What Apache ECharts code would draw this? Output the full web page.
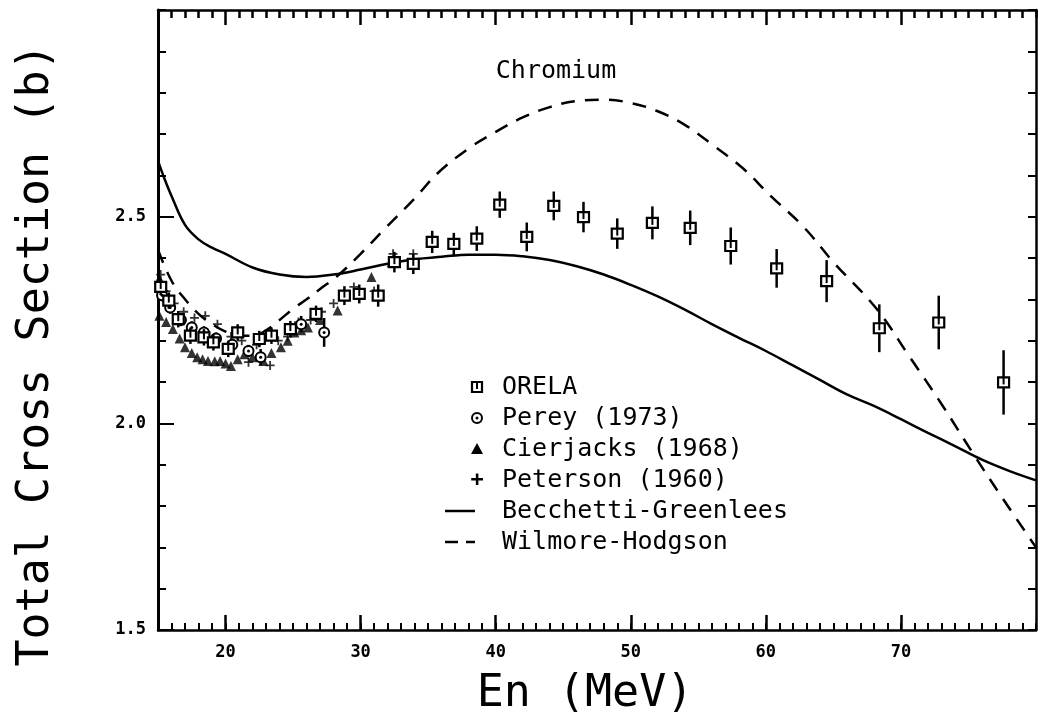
<!DOCTYPE html>
<html><head><meta charset="utf-8">
<script src="https://cdn.jsdelivr.net/npm/echarts@6/dist/echarts.min.js"></script>
<style>html,body{margin:0;padding:0;background:#fff}#c{width:1038px;height:721px}</style>
</head><body><div id="c"></div>
<script>
// ---- data ----
const xLabels = [20, 30, 40, 50, 60, 70];
const yLabels = [1.5, 2.0, 2.5];
const xMin = 15, xMax = 80, yMin = 1.5, yMax = 3.0;

// ORELA: [En, sigma, error]
const orela = [
  [15.2,2.330,0.015],[15.8,2.297,0.015],[16.5,2.252,0.015],[17.4,2.212,0.015],
  [18.4,2.208,0.015],[19.1,2.196,0.015],[20.2,2.180,0.015],[20.9,2.220,0.015],
  [22.5,2.204,0.015],[23.4,2.212,0.015],[24.8,2.228,0.015],[26.7,2.265,0.015],
  [28.8,2.309,0.018],[29.9,2.313,0.018],[31.3,2.309,0.022],[32.5,2.390,0.02],
  [33.9,2.386,0.02],[35.3,2.439,0.022],[36.9,2.434,0.022],[38.6,2.447,0.025],
  [40.3,2.529,0.027],[42.3,2.451,0.03],[44.3,2.526,0.03],[46.5,2.499,0.032],
  [49.0,2.459,0.032],[51.6,2.485,0.035],[54.4,2.473,0.037],[57.4,2.429,0.04],
  [60.8,2.375,0.042],[64.5,2.344,0.046],[68.4,2.230,0.053],[72.8,2.244,0.06],
  [77.6,2.099,0.073]
];
// Perey (1973): [En, sigma, error]
const perey = [
  [15.3,2.31,0.01],[15.9,2.28,0.01],[16.7,2.25,0.01],[17.5,2.232,0.01],
  [18.4,2.22,0.01],[19.3,2.205,0.01],[20.5,2.19,0.01],[21.7,2.175,0.01],
  [22.6,2.16,0.015],[25.6,2.24,0.015],[27.3,2.22,0.03]
];
// Cierjacks (1968): [En, sigma]
const cierjacks = [
  [14.8,2.366],[15.1,2.35],[15.4,2.33],[15.1,2.26],[15.6,2.245],[16.1,2.228],
  [16.6,2.205],[17.0,2.184],[17.5,2.17],[17.9,2.16],[18.3,2.155],[18.7,2.151],
  [19.2,2.15],[19.6,2.151],[20.0,2.145],[20.4,2.139],[20.9,2.155],[21.4,2.167],
  [22.0,2.16],[22.8,2.151],[23.4,2.17],[24.1,2.184],[24.6,2.2],[25.1,2.22],
  [25.6,2.225],[26.1,2.232],[27.0,2.25],[28.3,2.273],[30.8,2.354],[32.3,2.39]
];
// Peterson (1960): [En, sigma]
const peterson = [
  [15.2,2.36],[15.6,2.32],[16.2,2.29],[16.9,2.27],[17.7,2.255],[18.5,2.26],
  [19.4,2.24],[20.4,2.21],[21.2,2.2],[21.7,2.148],[22.3,2.19],[23.3,2.14],
  [23.9,2.2],[24.6,2.21],[25.4,2.245],[26.3,2.25],[27.1,2.27],[28.0,2.29],
  [29.5,2.33],[31.0,2.32],[32.4,2.41],[33.9,2.41]
];
// Becchetti-Greenlees (solid)
const bgE = [15,15.5,16,17,18,19,20,22,24,26,28,30,32,34,36,38,40,42,44,46,48,50,52,54,56,58,60,62,64,66,68,70,72,74,76,78,80];
const bgS = [2.635,2.59,2.55,2.48,2.445,2.425,2.41,2.377,2.36,2.354,2.36,2.372,2.386,2.397,2.403,2.408,2.408,2.404,2.395,2.38,2.36,2.335,2.307,2.275,2.24,2.207,2.175,2.14,2.105,2.07,2.042,2.01,1.977,1.945,1.912,1.885,1.862];
// Wilmore-Hodgson (dashed)
const whE = [15,16,17,18,19,20,21,22,23,24,25,26,27,28.3,30,31.8,34,35.7,38,40,42,44,46,48,50,52,54,56,58.3,60.3,62.8,65,68.2,70.6,73.1,75.3,77.5,80];
const whS = [2.42,2.345,2.30,2.265,2.24,2.222,2.212,2.212,2.225,2.25,2.277,2.30,2.325,2.357,2.41,2.471,2.544,2.605,2.665,2.705,2.74,2.765,2.78,2.783,2.775,2.755,2.722,2.675,2.617,2.552,2.475,2.39,2.277,2.163,2.042,1.929,1.82,1.70];

const legendItems = ['ORELA','Perey (1973)','Cierjacks (1968)','Peterson (1960)','Becchetti-Greenlees','Wilmore-Hodgson'];
const chartLabel = 'Chromium';
const xTitle = 'En (MeV)';
const yTitle = 'Total Cross Section (b)';

// ---- build ----
const xMinorTicks = []; for (let v = xMin; v <= xMax; v++) xMinorTicks.push(v);
const yMinorTicks = []; for (let i = 0; i <= 15; i++) yMinorTicks.push(+(yMin + i * 0.1).toFixed(1));

const MONO = 'DejaVu Sans Mono';
const black = '#000';

function axisBase(extra) {
  return Object.assign({
    type: 'value', gridIndex: 0,
    axisLine: { show: true, onZero: false, lineStyle: { color: black, width: 2.5 } },
    splitLine: { show: false },
  }, extra);
}

const xAxes = [
  axisBase({ min: xMin, max: xMax, position: 'bottom',
    axisTick: { show: true, inside: true, length: 7, customValues: xMinorTicks, lineStyle: { color: black, width: 2 } },
    axisLabel: { show: true, customValues: xLabels, margin: 14, color: black, fontFamily: MONO, fontWeight: 'bold', fontSize: 17 } }),
  axisBase({ min: xMin, max: xMax, position: 'bottom', axisLine: { show: false },
    axisTick: { show: true, inside: true, length: 15, customValues: xLabels, lineStyle: { color: black, width: 2.5 } },
    axisLabel: { show: false } }),
  axisBase({ min: xMin, max: xMax, position: 'top',
    axisTick: { show: true, inside: true, length: 8, customValues: xMinorTicks, lineStyle: { color: black, width: 2.5 } },
    axisLabel: { show: false } }),
  axisBase({ min: xMin, max: xMax, position: 'top', axisLine: { show: false },
    axisTick: { show: true, inside: true, length: 15, customValues: xLabels, lineStyle: { color: black, width: 2.5 } },
    axisLabel: { show: false } })
];
const yAxes = [
  axisBase({ min: yMin, max: yMax, position: 'left',
    axisLine: { show: true, onZero: false, lineStyle: { color: black, width: 3 } },
    axisTick: { show: true, inside: true, length: 8, customValues: yMinorTicks, lineStyle: { color: black, width: 2 } },
    axisLabel: { show: true, customValues: yLabels, margin: 12, color: black, fontFamily: MONO, fontWeight: 'bold', fontSize: 17,
      formatter: v => v.toFixed(1) } }),
  axisBase({ min: yMin, max: yMax, position: 'left', axisLine: { show: false },
    axisTick: { show: true, inside: true, length: 16, customValues: yLabels, lineStyle: { color: black, width: 2 } },
    axisLabel: { show: false } }),
  axisBase({ min: yMin, max: yMax, position: 'right',
    axisTick: { show: true, inside: true, length: 8, customValues: yMinorTicks, lineStyle: { color: black, width: 2 } },
    axisLabel: { show: false } })
];

function errBarSeries(data, kind) {
  return {
    type: 'custom', xAxisIndex: 0, yAxisIndex: 0, data: data, z: kind === 'sq' ? 6 : 5,
    renderItem: function (params, api) {
      const x = api.value(0), y = api.value(1), e = api.value(2);
      const c = api.coord([x, y]);
      const t = api.coord([x, y + e]);
      const b = api.coord([x, y - e]);
      const ch = [{ type: 'line', shape: { x1: c[0], y1: t[1] - 2, x2: c[0], y2: b[1] + 2 }, style: { stroke: black, lineWidth: 2.5 } }];
      if (kind === 'sq') {
        ch.push({ type: 'rect', shape: { x: c[0] - 5.5, y: c[1] - 5, width: 11, height: 10 }, style: { fill: '#fff', stroke: black, lineWidth: 2.2 } });
        ch.push({ type: 'line', shape: { x1: c[0], y1: c[1] - 5, x2: c[0], y2: c[1] + 2 }, style: { stroke: black, lineWidth: 2 } });
      } else {
        ch.push({ type: 'circle', shape: { cx: c[0], cy: c[1], r: 5 }, style: { fill: '#fff', stroke: black, lineWidth: 2 } });
        ch.push({ type: 'circle', shape: { cx: c[0], cy: c[1], r: 1.5 }, style: { fill: black } });
      }
      return { type: 'group', children: ch };
    }
  };
}

const plusPath = 'path://M-1,-5H1V-1H5V1H1V5H-1V1H-5V-1H-1Z';

const series = [
  { type: 'line', name: legendItems[4], data: bgE.map((e, i) => [e, bgS[i]]), smooth: 0.4, showSymbol: false,
    lineStyle: { color: black, width: 2.5 }, z: 3, silent: true },
  { type: 'line', name: legendItems[5], data: whE.map((e, i) => [e, whS[i]]), smooth: 0.4, showSymbol: false,
    lineStyle: { color: black, width: 2.5, type: [14, 10] }, z: 3, silent: true },
  { type: 'scatter', name: legendItems[3], data: peterson, symbol: plusPath, symbolSize: 9,
    itemStyle: { color: black }, z: 4 },
  { type: 'scatter', name: legendItems[2], data: cierjacks, symbol: 'triangle', symbolSize: 10,
    itemStyle: { color: black }, z: 4 },
  errBarSeries(perey, 'ci'),
  errBarSeries(orela, 'sq')
];

// legend (static graphic)
const lgX = 477, lgT = 502, lgY0 = 387, lgDy = 31;
const legendGraphics = [];
legendItems.forEach((txt, i) => {
  const y = lgY0 + i * lgDy;
  legendGraphics.push({ type: 'text', x: lgT, y: y, style: { text: txt, font: '25px "' + MONO + '"', fill: black, verticalAlign: 'middle', align: 'left' } });
});
legendGraphics.push({ type: 'rect', shape: { x: lgX - 5, y: lgY0 - 5, width: 10, height: 10 }, style: { fill: '#fff', stroke: black, lineWidth: 2.2 } });
legendGraphics.push({ type: 'line', shape: { x1: lgX, y1: lgY0 - 5, x2: lgX, y2: lgY0 + 2 }, style: { stroke: black, lineWidth: 2 } });
legendGraphics.push({ type: 'circle', shape: { cx: lgX, cy: lgY0 + lgDy, r: 5 }, style: { fill: '#fff', stroke: black, lineWidth: 2 } });
legendGraphics.push({ type: 'circle', shape: { cx: lgX, cy: lgY0 + lgDy, r: 1.5 }, style: { fill: black } });
legendGraphics.push({ type: 'polygon', shape: { points: [[lgX, lgY0 + 2 * lgDy - 6], [lgX + 6, lgY0 + 2 * lgDy + 5], [lgX - 6, lgY0 + 2 * lgDy + 5]] }, style: { fill: black } });
legendGraphics.push({ type: 'text', x: lgX, y: lgY0 + 3 * lgDy, style: { text: '+', font: 'bold 22px "' + MONO + '"', fill: black, align: 'center', verticalAlign: 'middle' } });
legendGraphics.push({ type: 'line', shape: { x1: lgX - 32, y1: lgY0 + 4 * lgDy, x2: lgX - 2, y2: lgY0 + 4 * lgDy }, style: { stroke: black, lineWidth: 2.5 } });
legendGraphics.push({ type: 'line', shape: { x1: lgX - 32, y1: lgY0 + 5 * lgDy, x2: lgX - 2, y2: lgY0 + 5 * lgDy }, style: { stroke: black, lineWidth: 2.5, lineDash: [13, 8] } });

const option = {
  backgroundColor: '#fff',
  animation: false,
  grid: { left: 158, right: 2, top: 10, bottom: 91, containLabel: false },
  xAxis: xAxes,
  yAxis: yAxes,
  series: series,
  graphic: [
    { type: 'text', x: 556, y: 71, style: { text: chartLabel, font: '25px "' + MONO + '"', fill: black, align: 'center', verticalAlign: 'middle' } },
    { type: 'text', x: 585, y: 694, style: { text: xTitle, font: '45px "' + MONO + '"', fill: black, align: 'center', verticalAlign: 'middle' } },
    { type: 'text', x: 36, y: 355, rotation: Math.PI / 2, style: { text: yTitle, font: '45px "' + MONO + '"', fill: black, align: 'center', verticalAlign: 'middle' } }
  ].concat(legendGraphics)
};

const chart = echarts.init(document.getElementById('c'), null, { renderer: 'canvas' });
chart.setOption(option);
</script>
</body></html>
